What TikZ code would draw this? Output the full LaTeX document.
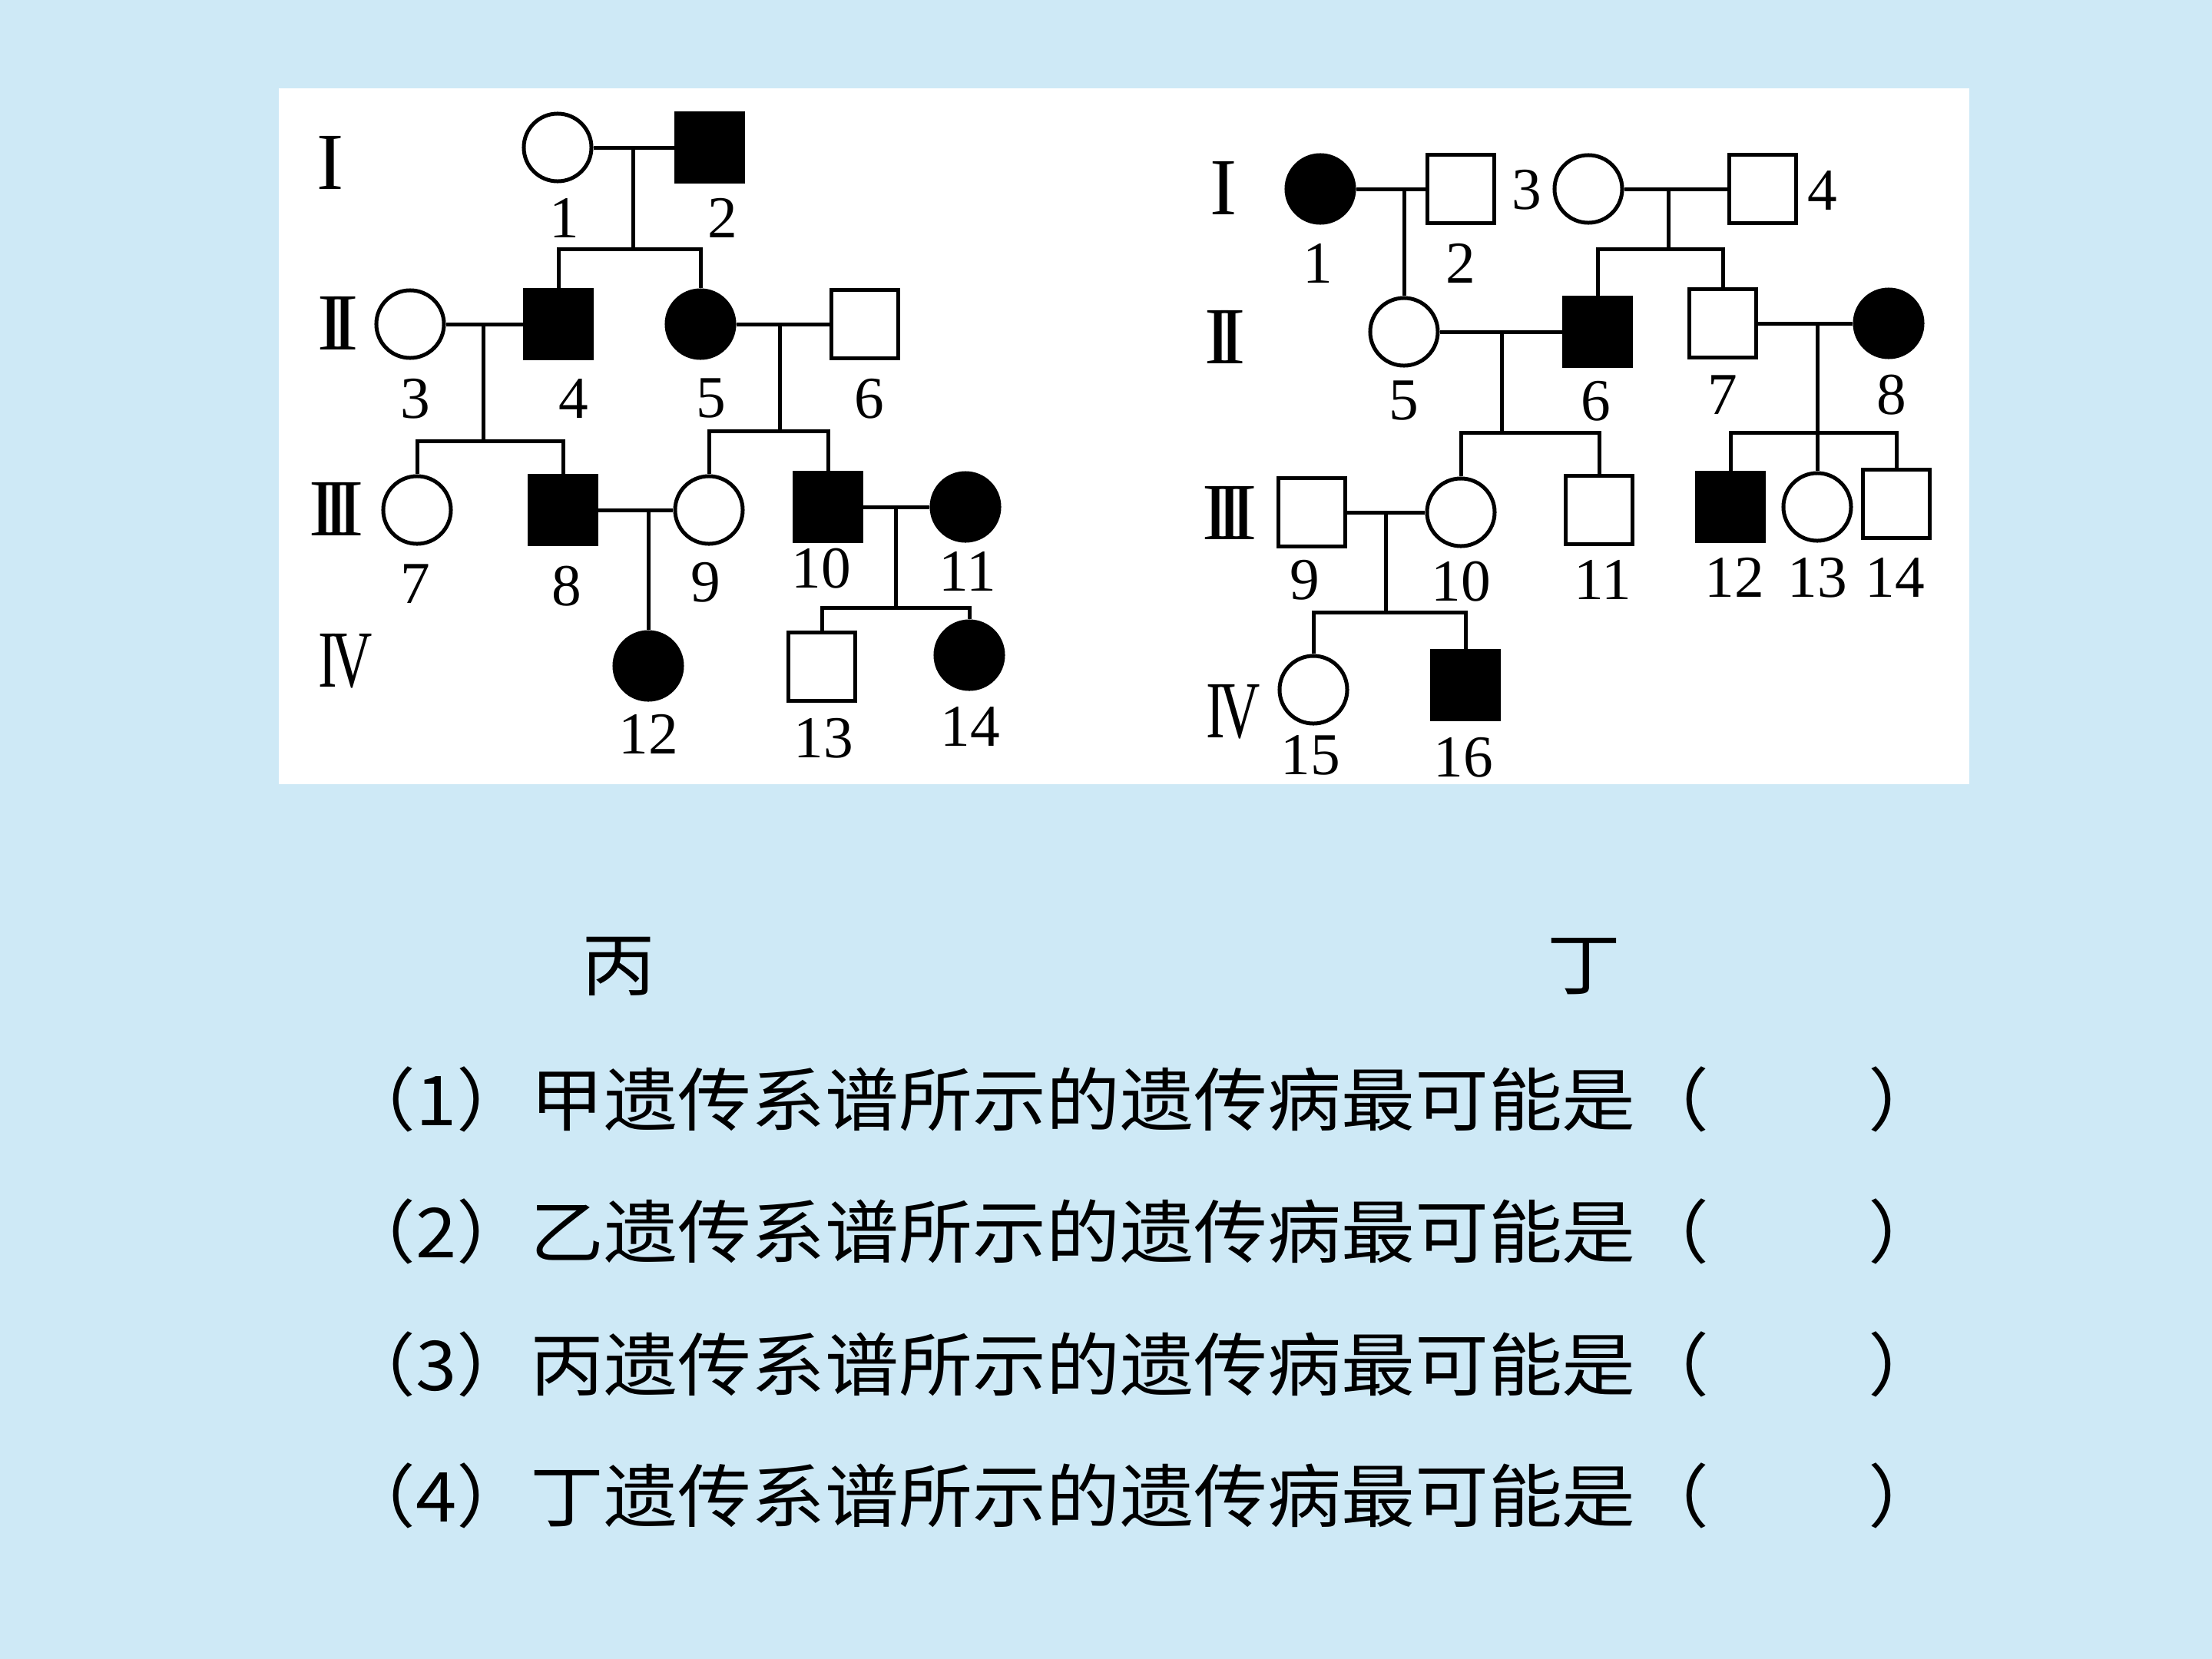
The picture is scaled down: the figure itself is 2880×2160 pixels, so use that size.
\documentclass[tikz,border=0pt]{standalone}
\usepackage{fontspec}
\usepackage{graphicx}
\setmainfont{Liberation Serif}
\newfontfamily\cjk[FakeStretch=1.07]{Noto Sans CJK SC}
\usetikzlibrary{positioning}
\definecolor{slideblue}{RGB}{206,233,246}
\newcommand{\numfont}{\fontsize{22}{22}\selectfont}
\newcommand{\genfont}{\fontsize{30}{30}\selectfont}
\newcommand{\qfont}{\cjk\fontsize{25.5}{25.5}\selectfont}

\begin{document}
\begin{tikzpicture}[x=0.01cm, y=-0.01cm, line width=0.5mm,
    female/.style={circle, draw, minimum size=8.8mm, inner sep=0},
    male/.style={rectangle, draw, minimum width=8.6mm, minimum height=8.8mm, inner sep=0},
    ill/.style={fill=black},
    num/.style={font=\numfont, inner sep=0},
    gen/.style={font=\genfont, inner sep=0},
    qline/.style={font=\qfont, inner sep=0, anchor=west}]
    \useasboundingbox (0,0) rectangle (2880,2160);
    \fill[slideblue] (0,0) rectangle (2880,2160);
    \fill[white] (363,115) rectangle (2564,1021);

    % pedigree bing
    \node[gen] (bI) at (430,212) {I};
    \node[gen] (bII) at (440,421) {I\kern-.16em I};
    \node[gen] (bIII) at (438,663) {I\kern-.16em I\kern-.16em I};
    \node[gen] (bIV) at (450,861) {\scalebox{.7}[1]{I\kern-.1em V}};

    \node[female] (b1) at (726,192) {};
    \node[male, ill] (b2) at (924,192) {};
    \node[female] (b3) at (534,422) {};
    \node[male, ill] (b4) at (727,422) {};
    \node[female, ill] (b5) at (912,422) {};
    \node[male] (b6) at (1126,422) {};
    \node[female] (b7) at (543,664) {};
    \node[male, ill] (b8) at (733,664) {};
    \node[female] (b9) at (923,664) {};
    \node[male, ill] (b10) at (1078,660) {};
    \node[female, ill] (b11) at (1257,660) {};
    \node[female, ill] (b12) at (844,867) {};
    \node[male] (b13) at (1070,868) {};
    \node[female, ill] (b14) at (1262,853) {};

    \node[num] (bn1) at (735,284) {1};
    \node[num] (bn2) at (941,284) {2};
    \node[num] (bn3) at (541,519) {3};
    \node[num] (bn4) at (747,519) {4};
    \node[num] (bn5) at (926,519) {5};
    \node[num] (bn6) at (1132,519) {6};
    \node[num] (bn7) at (541,760) {7};
    \node[num] (bn8) at (738,763) {8};
    \node[num] (bn9) at (919,758) {9};
    \node[num] (bn10) at (1069,740) {10};
    \node[num] (bn11) at (1260,744) {11};
    \node[num] (bn12) at (844,956) {12};
    \node[num] (bn13) at (1072,961) {13};
    \node[num] (bn14) at (1263,946) {14};

    \coordinate (bm12) at (824,192);
    \coordinate (bs12) at (824,324);
    \coordinate (bm34) at (629,422);
    \coordinate (bs34) at (629,574);
    \coordinate (bm56) at (1015,422);
    \coordinate (bs56) at (1015,561);
    \coordinate (bm89) at (844,662);
    \coordinate (bm1011) at (1166,660);
    \coordinate (bs1011) at (1166,791);

    \draw (b1) -- (b2);
    \draw (bm12) -- (bs12);
    \draw (b4) |- (bs12) -| (b5);
    \draw (b3) -- (b4);
    \draw (bm34) -- (bs34);
    \draw (b7) |- (bs34) -| (b8);
    \draw (b5) -- (b6);
    \draw (bm56) -- (bs56);
    \draw (b9) |- (bs56) -| (b10);
    \draw (b8) -- (b9);
    \draw (bm89) -- (b12);
    \draw (b10) -- (b11);
    \draw (bm1011) -- (bs1011);
    \draw (b13) |- (bs1011) -| (b14);

    % pedigree ding
    \node[gen] (dI) at (1593,245) {I};
    \node[gen] (dII) at (1595,439) {I\kern-.16em I};
    \node[gen] (dIII) at (1601,668) {I\kern-.16em I\kern-.16em I};
    \node[gen] (dIV) at (1606,927) {\scalebox{.7}[1]{I\kern-.1em V}};

    \node[female, ill] (d1) at (1719,246) {};
    \node[male] (d2) at (1902,246) {};
    \node[female] (d3) at (2068,246) {};
    \node[male] (d4) at (2295,246) {};
    \node[female] (d5) at (1828,432) {};
    \node[male, ill] (d6) at (2080,432) {};
    \node[male] (d7) at (2243,421) {};
    \node[female, ill] (d8) at (2459,421) {};
    \node[male] (d9) at (1708,667) {};
    \node[female] (d10) at (1902,667) {};
    \node[male] (d11) at (2082,664) {};
    \node[male, ill] (d12) at (2253,660) {};
    \node[female] (d13) at (2366,660) {};
    \node[male] (d14) at (2469,656) {};
    \node[female] (d15) at (1710,898) {};
    \node[male, ill] (d16) at (1908,892) {};

    \node[num] (dn1) at (1716,343) {1};
    \node[num] (dn2) at (1902,343) {2};
    \node[num] (dn3) at (1988,247) {3};
    \node[num] (dn4) at (2373,248) {4};
    \node[num] (dn5) at (1828,522) {5};
    \node[num] (dn6) at (2078,522) {6};
    \node[num] (dn7) at (2243,514) {7};
    \node[num] (dn8) at (2463,514) {8};
    \node[num] (dn9) at (1699,755) {9};
    \node[num] (dn10) at (1902,757) {10};
    \node[num] (dn11) at (2087,755) {11};
    \node[num] (dn12) at (2258,752) {12};
    \node[num] (dn13) at (2366,752) {13};
    \node[num] (dn14) at (2467,752) {14};
    \node[num] (dn15) at (1706,983) {15};
    \node[num] (dn16) at (1905,986) {16};

    \coordinate (dm12) at (1828,246);
    \coordinate (dm34) at (2172,246);
    \coordinate (ds34) at (2172,324);
    \coordinate (dm56) at (1955,432);
    \coordinate (ds56) at (1955,563);
    \coordinate (dm78) at (2366,421);
    \coordinate (ds78) at (2366,563);
    \coordinate (dm910) at (1804,667);
    \coordinate (ds910) at (1804,797);

    \draw (d1) -- (d2);
    \draw (dm12) -- (d5);
    \draw (d3) -- (d4);
    \draw (dm34) -- (ds34);
    \draw (d6) |- (ds34) -| (d7);
    \draw (d5) -- (d6);
    \draw (dm56) -- (ds56);
    \draw (d10) |- (ds56) -| (d11);
    \draw (d7) -- (d8);
    \draw (dm78) -- (d13);
    \draw (d12) |- (ds78) -| (d14);
    \draw (d9) -- (d10);
    \draw (dm910) -- (ds910);
    \draw (d15) |- (ds910) -| (d16);

    % captions and questions
    \node[font=\qfont, inner sep=0] (cb) at (805,1258) {丙};
    \node[font=\qfont, inner sep=0] (cd) at (2062,1258) {丁};
    \node[qline] (q1) at (443,1431) {（1）甲遗传系谱所示的遗传病最可能是（\hspace{2.3em}）};
    \node[qline] (q2) at (443,1603) {（2）乙遗传系谱所示的遗传病最可能是（\hspace{2.3em}）};
    \node[qline] (q3) at (443,1776) {（3）丙遗传系谱所示的遗传病最可能是（\hspace{2.3em}）};
    \node[qline] (q4) at (443,1947) {（4）丁遗传系谱所示的遗传病最可能是（\hspace{2.3em}）};
\end{tikzpicture}
\end{document}
